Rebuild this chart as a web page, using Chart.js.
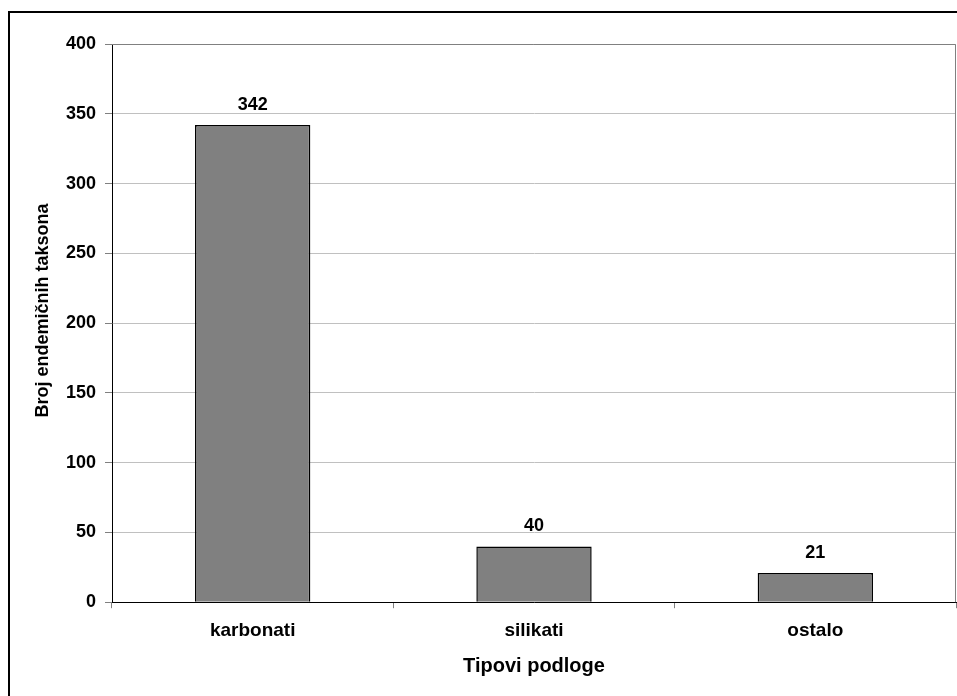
<!DOCTYPE html>
<html>
<head>
<meta charset="utf-8">
<script src="https://cdn.jsdelivr.net/npm/chart.js@4.4.1/dist/chart.umd.min.js"></script>
<style>
  html, body { margin: 0; padding: 0; background: #fff; }
  #wrap { width: 957px; height: 696px; position: relative; }
</style>
</head>
<body>
<div id="wrap"><canvas id="myChart"></canvas></div>
<script>
const categories = ['karbonati', 'silikati', 'ostalo'];
const values = [342, 40, 21];
const yTicks = [0, 50, 100, 150, 200, 250, 300, 350, 400];

const FONT = 'Liberation Sans, Arial, sans-serif';

// okvir oko cijelog grafa i sivi rub podrucja crtanja
const frame = {
    id: 'frame',
    beforeDraw(chart) {
        const ctx = chart.ctx;
        ctx.save();
        ctx.fillStyle = '#000';
        ctx.fillRect(8, 11, 2, 700);
        ctx.fillRect(8, 11, 960, 2);
        ctx.restore();
    },
    afterDraw(chart) {
        const a = chart.chartArea;
        const ctx = chart.ctx;
        ctx.save();
        ctx.strokeStyle = '#808080';
        ctx.lineWidth = 1;
        ctx.beginPath();
        ctx.moveTo(a.left, a.top + 0.5);
        ctx.lineTo(a.right - 0.5, a.top + 0.5);
        ctx.lineTo(a.right - 0.5, a.bottom);
        ctx.stroke();
        ctx.restore();
    }
};

// vrijednosti iznad stupaca
const valueLabels = {
    id: 'valueLabels',
    afterDatasetsDraw(chart) {
        const ctx = chart.ctx;
        const meta = chart.getDatasetMeta(0);
        ctx.save();
        ctx.fillStyle = '#000';
        ctx.font = 'bold 18px ' + FONT;
        ctx.textAlign = 'center';
        ctx.textBaseline = 'alphabetic';
        meta.data.forEach((bar, i) => {
            ctx.fillText(String(values[i]), bar.x, bar.y - 15);
        });
        ctx.restore();
    }
};

new Chart(document.getElementById('myChart'), {
    type: 'bar',
    data: {
        labels: categories,
        datasets: [{
            data: values,
            backgroundColor: '#808080',
            borderColor: '#000',
            borderWidth: 1.5,
            barPercentage: 0.41,
            categoryPercentage: 1
        }]
    },
    options: {
        responsive: true,
        maintainAspectRatio: false,
        animation: false,
        layout: { padding: { left: 32, top: 44, right: 1, bottom: 18 } },
        plugins: {
            legend: { display: false },
            tooltip: { enabled: false }
        },
        scales: {
            x: {
                offset: true,
                grid: {
                    offset: true,
                    drawOnChartArea: false,
                    tickLength: 6,
                    tickColor: '#808080'
                },
                border: { color: '#000', width: 1 },
                ticks: {
                    color: '#000',
                    padding: 11,
                    font: { family: FONT, size: 19, weight: 'bold' }
                },
                title: {
                    display: true,
                    text: 'Tipovi podloge',
                    color: '#000',
                    padding: { top: 1, bottom: 0 },
                    font: { family: FONT, size: 20, weight: 'bold' }
                }
            },
            y: {
                min: 0,
                max: 400,
                afterBuildTicks(scale) {
                    scale.ticks = yTicks.map(v => ({ value: v }));
                },
                afterFit(scale) {
                    scale.width = 80;
                },
                grid: {
                    color: '#c0c0c0',
                    tickColor: '#808080',
                    tickLength: 7
                },
                border: { color: '#000', width: 1 },
                ticks: {
                    color: '#000',
                    padding: 9,
                    font: { family: FONT, size: 18, weight: 'bold' }
                },
                title: {
                    display: true,
                    text: '     Broj endemičnih taksona',
                    color: '#000',
                    padding: 0,
                    font: { family: FONT, size: 18, weight: 'bold' }
                }
            }
        }
    },
    plugins: [frame, valueLabels]
});
</script>
</body>
</html>
